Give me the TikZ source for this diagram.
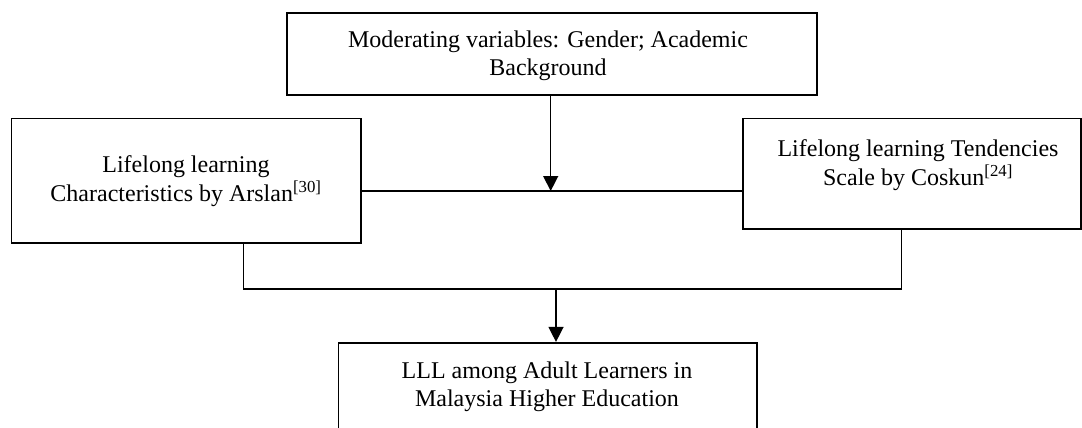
\documentclass[tikz,border=0pt]{standalone}
\usepackage{fontspec}
\setmainfont{Liberation Serif}
\usetikzlibrary{arrows.meta}
\begin{document}
\begin{tikzpicture}[x=1pt,y=-1pt,
  boxnode/.style={draw=black,line width=1.6pt,rectangle,inner sep=0pt},
  txt/.style={align=center,inner sep=0pt,font=\fontsize{24}{28.5}\selectfont},
  conn/.style={draw=black,line width=1.4pt},
  arr/.style={conn,-{Triangle[width=15pt,length=15pt]}}]
\useasboundingbox (0,0) rectangle (1082,428);
\begin{scope}
\clip (0,0) rectangle (1082,428);
% boxes
\node[boxnode,minimum width=530pt,minimum height=82.3pt] (top) at (552,53.9) {};
\node[boxnode,minimum width=349.7pt,minimum height=124.7pt] (left) at (186.2,180.7) {};
\node[boxnode,minimum width=338pt,minimum height=110.7pt] (right) at (912,173.7) {};
\node[boxnode,minimum width=418.4pt,minimum height=100pt] (lll) at (547.5,392.7) {};
% texts
\node[txt] (toptxt) at (548,56) {Moderating variables: Gender; Academic\\Background};
\node[txt] (lefttxt) at (186,181) {Lifelong learning\\Characteristics by Arslan\textsuperscript{[30]}};
\node[txt] (righttxt) at (918,165) {Lifelong learning Tendencies\\Scale by Coskun\textsuperscript{[24]}};
\node[txt] (llltxt) at (547,387) {LLL among Adult Learners in\\Malaysia Higher Education};
% junction coordinates
\coordinate (j1) at (550.7,191);
\coordinate (bl) at (243.3,289);
\coordinate (br) at (901.7,289);
\coordinate (j2) at (556,289);
% connectors
\draw[arr] (j1 |- top.south) -- (j1);
\draw[conn] (left.east |- j1) -- (right.west |- j1);
\draw[conn] (bl |- left.south) -- (bl) -- (br) -- (br |- right.south);
\draw[arr] (j2) -- (j2 |- lll.north);
\end{scope}
\end{tikzpicture}
\end{document}
